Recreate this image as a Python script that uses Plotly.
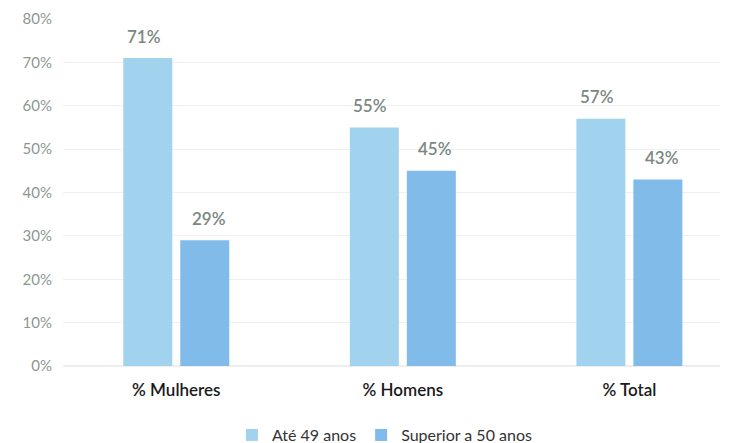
import plotly.graph_objects as go

categories = ["% Mulheres", "% Homens", "% Total"]
series_names = ["Até 49 anos", "Superior a 50 anos"]
ate_49 = [0.71, 0.55, 0.57]
superior_50 = [0.29, 0.45, 0.43]
y_ticks = [0, 0.1, 0.2, 0.3, 0.4, 0.5, 0.6, 0.7, 0.8]

colors = ["#a1d3ef", "#80bbea"]
label_color = "#7a8882"
font_family = "Lato, 'Open Sans', sans-serif"

fig = go.Figure()
for name, vals, col in zip(series_names, [ate_49, superior_50], colors):
    fig.add_trace(go.Bar(
        x=categories, y=vals, name=name,
        marker=dict(color=col, line=dict(width=0)),
    ))

# value labels floating above each bar
for vals, shift in zip([ate_49, superior_50], [-32.5, 32.5]):
    for cat, v in zip(categories, vals):
        fig.add_annotation(
            x=cat, y=v, xref="x", yref="y",
            text=f"{round(v*100)}%", showarrow=False,
            xshift=shift, yshift=22, yanchor="middle",
            font=dict(color=label_color, size=17, family=font_family, weight=600),
        )

fig.update_layout(
    width=731, height=443,
    margin=dict(l=63, r=11, t=19, b=77, autoexpand=False),
    paper_bgcolor="white", plot_bgcolor="white",
    barmode="group", bargap=0.497, bargroupgap=0.14,
    font=dict(family=font_family),
    showlegend=True,
    legend=dict(
        orientation="h", x=0.49, xanchor="center", y=-0.15, yanchor="top",
        font=dict(size=16, color="#333333", family=font_family),
        traceorder="normal", itemwidth=30,
    ),
    xaxis=dict(
        range=[-0.5, 2.4], showgrid=False, showline=False, ticks="",
        tickfont=dict(size=17, color="#1a1a1a", family=font_family, weight=600),
        ticklabelstandoff=12,
    ),
    yaxis=dict(
        range=[0, 0.8], tickvals=y_ticks, tickformat=".0%",
        showgrid=True, gridcolor="#f0f0f0", gridwidth=1,
        zeroline=True, zerolinecolor="#eeeeee",
        tickfont=dict(size=15, color="#8c9892", family=font_family),
        ticks="", ticklabelstandoff=10,
    ),
)

fig.write_html("out.html")
